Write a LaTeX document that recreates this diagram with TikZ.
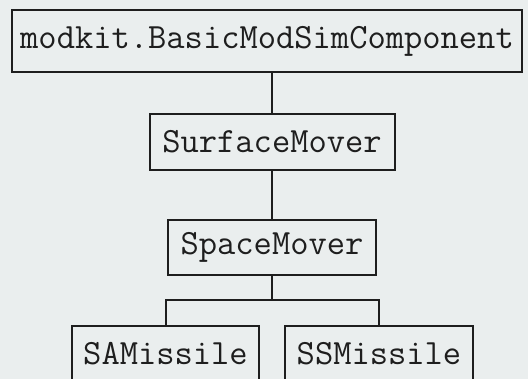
\documentclass[tikz,border=0pt]{standalone}
\usepackage{fontspec}
\definecolor{paper}{RGB}{234,238,238}
\definecolor{ink}{RGB}{30,30,30}
\begin{document}
\begin{tikzpicture}[x=1pt,y=-1pt,
  classbox/.style={draw=ink, line width=2pt, inner sep=0pt, fill=paper,
    text=ink, font=\ttfamily\fontsize{35.5}{40}\selectfont},
  link/.style={draw=ink, line width=2pt}]
  % page frame and background
  \fill[paper] (0,0) rectangle (528,379);
  \useasboundingbox (0,0) rectangle (528,379);
  \begin{scope}
    \clip (0,0) rectangle (528,379);
    % class boxes
    \node[classbox, minimum width=510pt, minimum height=62pt] (top) at (267,41) {modkit.BasicModSimComponent};
    \node[classbox, minimum width=245pt, minimum height=56pt] (surf) at (272,142) {SurfaceMover};
    \node[classbox, minimum width=208pt, minimum height=55pt] (space) at (272,247.5) {SpaceMover};
    \node[classbox, minimum width=187pt, minimum height=56pt] (sam) at (165.5,354) {SAMissile};
    \node[classbox, minimum width=188pt, minimum height=56pt] (ssm) at (379,354) {SSMissile};
    % inheritance links
    \coordinate (j) at (space.south |- 0,300);
    \draw[link] (surf.north) -- (surf.north |- top.south);
    \draw[link] (space.north) -- (surf.south);
    \draw[link] (space.south) -- (j);
    \draw[link] (sam.north) |- (j) -| (ssm.north);
  \end{scope}
\end{tikzpicture}
\end{document}
